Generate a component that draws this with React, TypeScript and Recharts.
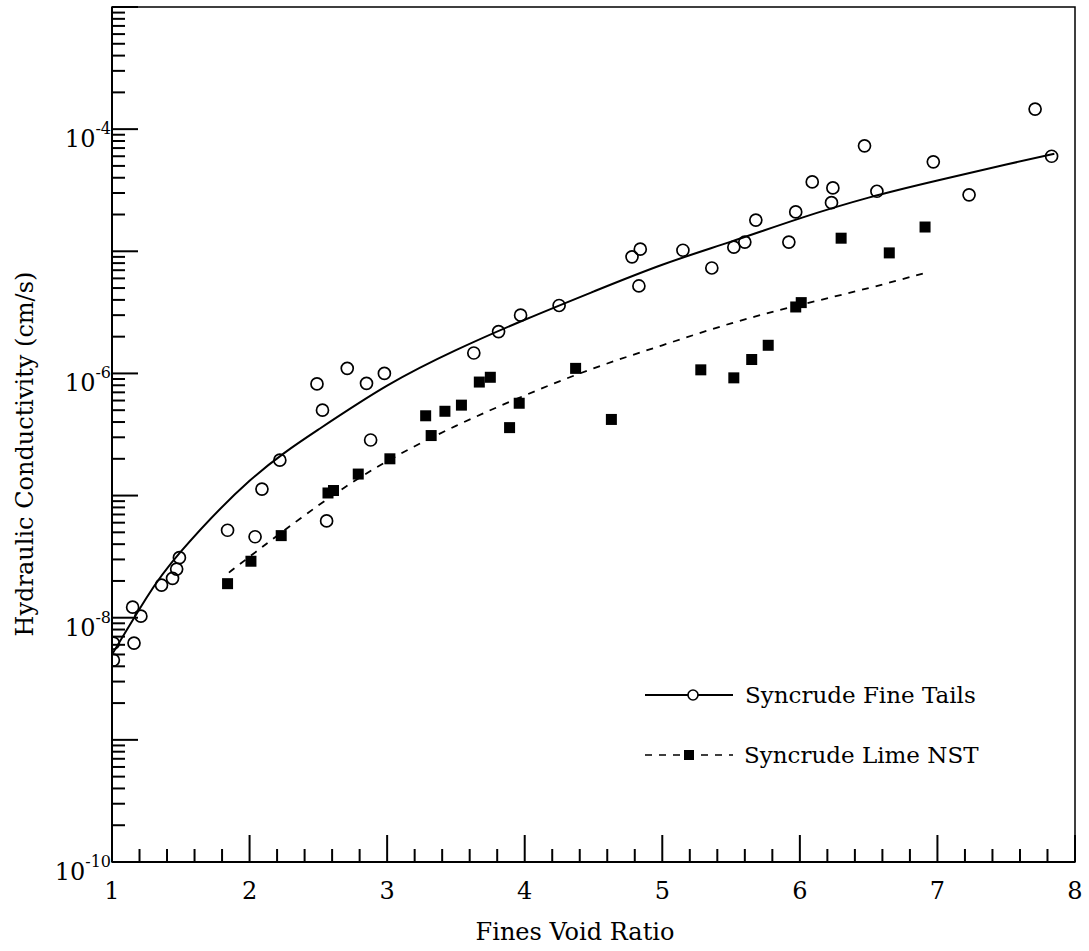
import React from 'react';
import { ComposedChart, Line, Scatter, XAxis, YAxis, Legend, ReferenceArea } from 'recharts';

const FONT = '"DejaVu Serif", "Liberation Serif", serif';

// Syncrude Fine Tails - measured points (open circles)
const fineX = [1.01, 1.01, 1.15, 1.16, 1.21, 1.36, 1.44, 1.47, 1.49, 1.84, 2.04, 2.09, 2.22, 2.49, 2.53, 2.56, 2.71, 2.85, 2.88, 2.98, 3.63, 3.81, 3.97, 4.25, 4.78, 4.83, 4.84, 5.15, 5.36, 5.52, 5.6, 5.68, 5.92, 5.97, 6.09, 6.23, 6.24, 6.47, 6.56, 6.97, 7.23, 7.71, 7.83];
const fineK = [6.2e-9, 4.5e-9, 1.22e-8, 6.2e-9, 1.03e-8, 1.85e-8, 2.1e-8, 2.5e-8, 3.1e-8, 5.2e-8, 4.6e-8, 1.13e-7, 1.95e-7, 8.2e-7, 5.0e-7, 6.2e-8, 1.1e-6, 8.3e-7, 2.85e-7, 1.0e-6, 1.47e-6, 2.2e-6, 3.0e-6, 3.6e-6, 9.0e-6, 5.2e-6, 1.04e-5, 1.02e-5, 7.3e-6, 1.08e-5, 1.19e-5, 1.8e-5, 1.19e-5, 2.1e-5, 3.7e-5, 2.5e-5, 3.3e-5, 7.3e-5, 3.1e-5, 5.4e-5, 2.9e-5, 1.46e-4, 6.0e-5];

// Syncrude Lime NST - measured points (filled squares)
const limeX = [1.84, 2.01, 2.23, 2.57, 2.61, 2.79, 3.02, 3.28, 3.32, 3.42, 3.54, 3.67, 3.75, 3.89, 3.96, 4.37, 4.63, 5.28, 5.52, 5.65, 5.77, 5.97, 6.01, 6.3, 6.65, 6.91];
const limeK = [1.9e-8, 2.9e-8, 4.7e-8, 1.05e-7, 1.1e-7, 1.5e-7, 2.0e-7, 4.5e-7, 3.1e-7, 4.9e-7, 5.5e-7, 8.5e-7, 9.3e-7, 3.6e-7, 5.7e-7, 1.1e-6, 4.2e-7, 1.07e-6, 9.2e-7, 1.3e-6, 1.7e-6, 3.5e-6, 3.8e-6, 1.28e-5, 9.7e-6, 1.58e-5];

// fitted curves
const fineFitX = [1, 1.25, 1.5, 2, 2.5, 3, 3.5, 4, 4.5, 5, 5.5, 6, 6.5, 7, 7.5, 7.85];
const fineFitK = [5.0e-9, 1.45e-8, 3.47e-8, 1.32e-7, 3.47e-7, 7.94e-7, 1.55e-6, 2.75e-6, 4.68e-6, 7.76e-6, 1.2e-5, 1.86e-5, 2.75e-5, 3.8e-5, 5.13e-5, 6.3e-5];
const limeFitX = [1.85, 2, 2.5, 3, 3.5, 4, 4.5, 5, 5.5, 6, 6.5, 6.9];
const limeFitK = [2.34e-8, 3.16e-8, 8.3e-8, 1.91e-7, 3.72e-7, 6.6e-7, 1.1e-6, 1.7e-6, 2.57e-6, 3.63e-6, 5.0e-6, 6.6e-6];

const xLabels = [1, 2, 3, 4, 5, 6, 7, 8];
const yLabelExps = [-10, -8, -6, -4];

const PLOT_LEFT = 112;
const PLOT_BOTTOM = 862;

const zip = (xs: number[], ys: number[]) => xs.map((x, i) => ({ x, y: ys[i] }));
const fineData = zip(fineX, fineK);
const limeData = zip(limeX, limeK);
const fineFit = zip(fineFitX, fineFitK);
const limeFit = zip(limeFitX, limeFitK);

// minor ticks every 0.2 on x, 1..9 per decade on y
const xTicks: number[] = [];
for (let i = 0; i <= 35; i++) xTicks.push(Math.round((1 + i * 0.2) * 10) / 10);
const yTicks: number[] = [];
for (let e = -10; e < -3; e++) for (let m = 1; m < 10; m++) yTicks.push(Number((m * Math.pow(10, e)).toPrecision(3)));
yTicks.push(1e-3);

const XTick = (props: any) => {
  const { x, payload } = props;
  const v = payload.value;
  const major = xLabels.includes(v);
  return (
    <g>
      <line x1={x} x2={x} y1={PLOT_BOTTOM} y2={PLOT_BOTTOM - (major ? 27 : 13)} stroke="#000" strokeWidth={2} />
      {major && (
        <text x={x} y={PLOT_BOTTOM + 37} textAnchor="middle" fontFamily={FONT} fontSize={24} fill="#000">
          {v}
        </text>
      )}
    </g>
  );
};

const YTick = (props: any) => {
  const { y, payload } = props;
  const e = Math.log10(payload.value);
  const major = Math.abs(e - Math.round(e)) < 1e-6;
  const exp = Math.round(e);
  return (
    <g>
      <line x1={PLOT_LEFT} x2={PLOT_LEFT + (major ? 26 : 13)} y1={y} y2={y} stroke="#000" strokeWidth={2} />
      {major && yLabelExps.includes(exp) && (
        <text x={111} y={y + 18} textAnchor="end" fontFamily={FONT} fontSize={24} fill="#000">
          10<tspan dy={-13} fontSize={16}>{exp}</tspan>
        </text>
      )}
    </g>
  );
};

const XTitle = () => (
  <text x={575} y={932} textAnchor="middle" dominantBaseline="central" fontFamily={FONT} fontSize={24} fill="#000">
    Fines Void Ratio
  </text>
);

const YTitle = () => (
  <text x={25} y={454} transform="rotate(-90 25 454)" textAnchor="middle" dominantBaseline="central" fontFamily={FONT} fontSize={24} fill="#000">
    Hydraulic Conductivity (cm/s)
  </text>
);

const LegendBox = () => (
  <div style={{ fontFamily: FONT, fontSize: 23, color: '#000' }}>
    <div style={{ display: 'flex', alignItems: 'center', height: 60 }}>
      <svg width={100} height={20}>
        <line x1={5} x2={93} y1={10} y2={10} stroke="#000" strokeWidth={1.8} />
        <circle cx={53} cy={10} r={5} fill="#fff" stroke="#000" strokeWidth={1.6} />
      </svg>
      <span style={{ marginLeft: 5 }}>Syncrude Fine Tails</span>
    </div>
    <div style={{ display: 'flex', alignItems: 'center', height: 60 }}>
      <svg width={100} height={20}>
        <line x1={5} x2={93} y1={10} y2={10} stroke="#000" strokeWidth={1.6} strokeDasharray="7 7" />
        <rect x={44} y={5} width={10} height={10} fill="#000" />
      </svg>
      <span style={{ marginLeft: 4 }}>Syncrude Lime NST</span>
    </div>
  </div>
);

const App = () => {
  return (
    <div>
      <style>{'body{margin:0;background:#fff}'}</style>
      <ComposedChart width={1089} height={951} margin={{ top: 7, right: 14, left: 0, bottom: 0 }}>
        <XAxis
          dataKey="x"
          type="number"
          domain={[1, 8]}
          ticks={xTicks}
          interval={0}
          height={89}
          allowDataOverflow
          axisLine={{ stroke: '#000', strokeWidth: 2 }}
          tickLine={false}
          tick={<XTick />}
          label={<XTitle />}
        />
        <YAxis
          dataKey="y"
          type="number"
          scale="log"
          domain={[1e-10, 1e-3]}
          ticks={yTicks}
          interval={0}
          width={112}
          allowDataOverflow
          axisLine={{ stroke: '#000', strokeWidth: 2 }}
          tickLine={false}
          tick={<YTick />}
          label={<YTitle />}
        />
        <ReferenceArea x1={1} x2={8} y1={1e-10} y2={1e-3} fill="none" stroke="#000" strokeWidth={1.5} />
        <Line data={fineFit} dataKey="y" type="natural" stroke="#000" strokeWidth={2} dot={false} activeDot={false} isAnimationActive={false} />
        <Line data={limeFit} dataKey="y" type="natural" stroke="#000" strokeWidth={1.8} strokeDasharray="7 7" dot={false} activeDot={false} isAnimationActive={false} />
        <Scatter
          data={fineData}
          dataKey="y"
          isAnimationActive={false}
          shape={(p: any) => <circle cx={p.cx} cy={p.cy} r={6} fill="#fff" fillOpacity={0} stroke="#000" strokeWidth={1.7} />}
        />
        <Scatter
          data={limeData}
          dataKey="y"
          isAnimationActive={false}
          shape={(p: any) => <rect x={p.cx - 5.5} y={p.cy - 5.5} width={11} height={11} fill="#000" />}
        />
        <Legend
          layout="vertical"
          align="center"
          verticalAlign="middle"
          content={<LegendBox />}
          wrapperStyle={{ position: 'absolute', left: 640, top: 665, width: 420 }}
        />
      </ComposedChart>
    </div>
  );
};

export default App;
